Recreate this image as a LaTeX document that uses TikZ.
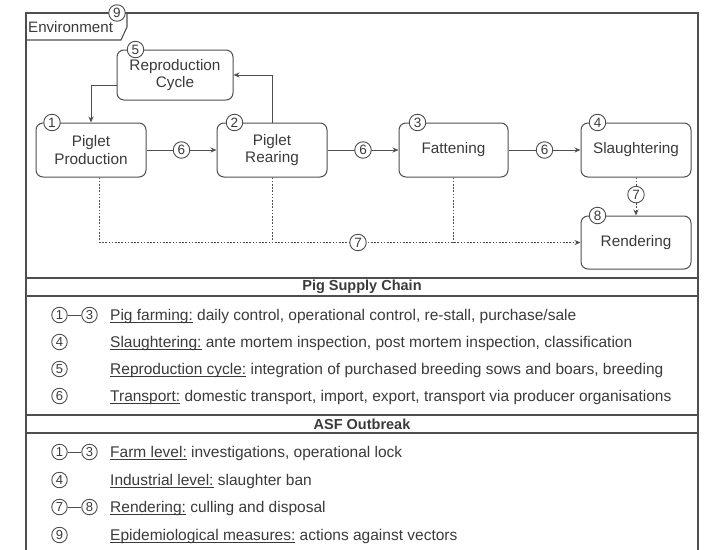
\documentclass[tikz,border=0pt]{standalone}
\usepackage{fontspec}
\setmainfont{Liberation Sans}
\usetikzlibrary{arrows.meta}
\definecolor{ink}{HTML}{3A3A3A}
\definecolor{edge}{HTML}{4E4E4E}
% underline drawn just below the baseline, through the descenders
\newcommand\undertext[1]{\setbox0\hbox{#1}\rlap{\rule[-2pt]{\wd0}{0.7pt}}\box0\relax}

\begin{document}
\begin{tikzpicture}[x=1pt,y=-1pt,
  every node/.style={text=ink},
  stage/.style={draw=edge, line width=1pt, rounded corners=7pt,
    minimum width=110pt, minimum height=54pt, align=center, inner sep=0pt,
    font=\fontsize{15.3}{17.5}\selectfont},
  tag/.style={circle, draw=edge, fill=white, solid, line width=0.9pt,
    minimum size=16.5pt, inner sep=0pt, font=\fontsize{13.5}{13.5}\selectfont},
  ltag/.style={tag, minimum size=15.5pt, font=\fontsize{13}{13}\selectfont},
  tip/.style={-{Stealth[length=6pt,width=5pt]}},
  flow/.style={draw=edge, line width=1pt, tip},
  cull/.style={draw=edge, line width=1pt, dash pattern=on 1.6pt off 1.6pt},
  frame/.style={draw=edge, line width=1.1pt},
  band/.style={font=\fontsize{14.5}{16}\selectfont\bfseries},
  entry/.style={anchor=base west, inner sep=0pt, font=\fontsize{15.5}{17}\selectfont},
]
\useasboundingbox (0,0) rectangle (709,549);

% outer frame of the environment (open at the bottom)
\draw[frame] (26,560) -- (26,13) -- (698,13) -- (698,560);
\draw[frame] (26,40) -- (121,40) -- (127,27) -- (127,13);
\node[anchor=west, inner sep=0pt, font=\fontsize{15.1}{17}\selectfont] (env) at (28,27) {Environment};

% supply chain stages
\node[stage, minimum width=116pt, minimum height=50pt] (repro) at (175,75) {Reproduction\\Cycle};
\node[stage] (prod) at (91,150) {Piglet\\Production};
\node[stage] (rear) at (272,150) {Piglet\\Rearing};
\node[stage, minimum width=109pt] (fat) at (453.5,150) {Fattening};
\node[stage] (slaug) at (636,150) {Slaughtering};
\node[stage, minimum height=53pt] (rend) at (636,242.5) {Rendering};

% breeding loop
\draw[flow] ([yshift=-10pt]repro.west) -| (prod.north);
\draw[flow] (rear.north) |- (repro.east);

% transport between stages
\draw[flow] (prod) -- (rear) node[tag, midway] {6};
\draw[flow] (rear) -- (fat) node[tag, midway] {6};
\draw[flow] (fat) -- (slaug) node[tag, midway] {6};

% animals sent to rendering
\coordinate (drop) at ([xshift=8pt]prod.south);
\draw[cull] (drop) -- (drop |- rend.west);
\draw[cull, tip] (drop |- rend.west) -- (rend.west);
\draw[cull] (rear.south) -- (rear.south |- rend.west);
\draw[cull] (fat.south) -- (fat.south |- rend.west);
\node[tag] (t7a) at (358,242.5) {7};
\draw[cull, tip] (slaug.south) -- (rend.north) node[tag, pos=0.45] {7};

% stage numbers
\node[tag] (n1) at ([xshift=16.5pt]prod.north west) {1};
\node[tag] (n2) at ([xshift=18pt]rear.north west) {2};
\node[tag] (n3) at ([xshift=19pt]fat.north west) {3};
\node[tag] (n4) at ([xshift=17pt]slaug.north west) {4};
\node[tag] (n5) at ([xshift=19pt]repro.north west) {5};
\node[tag] (n8) at ([xshift=17pt]rend.north west) {8};
\node[tag] (n9) at (117,13) {9};

% legend bands
\draw[frame] (26,278) -- (698,278);
\draw[frame] (26,296) -- (698,296);
\node[band] (h1) at (362,287) {Pig Supply Chain};
\draw[frame] (26,415) -- (698,415);
\draw[frame] (26,433) -- (698,433);
\node[band] (h2) at (362,424) {ASF Outbreak};

% legend: pig supply chain
\node[ltag] (a1) at (59.5,315) {1};
\node[ltag] (a3) at (89.5,315) {3};
\draw[edge, line width=0.9pt] (a1) -- (a3);
\node[entry] (e1) at (110,320.5) {\undertext{Pig farming:} daily control, operational control, re-stall, purchase/sale};
\node[ltag] (b4) at (59.5,342) {4};
\node[entry] (e2) at (110,347.5) {\undertext{Slaughtering:} ante mortem inspection, post mortem inspection, classification};
\node[ltag] (c5) at (59.5,369) {5};
\node[entry] (e3) at (110,374.5) {\undertext{Reproduction cycle:} integration of purchased breeding sows and boars, breeding};
\node[ltag] (d6) at (59.5,396) {6};
\node[entry] (e4) at (110,401.5) {\undertext{Transport:} domestic transport, import, export, transport via producer organisations};

% legend: ASF outbreak
\node[ltag] (f1) at (59.5,452) {1};
\node[ltag] (f3) at (89.5,452) {3};
\draw[edge, line width=0.9pt] (f1) -- (f3);
\node[entry] (g1) at (110,457.5) {\undertext{Farm level:} investigations, operational lock};
\node[ltag] (f4) at (59.5,480) {4};
\node[entry] (g2) at (110,485.5) {\undertext{Industrial level:} slaughter ban};
\node[ltag] (f7) at (59.5,507) {7};
\node[ltag] (f8) at (89.5,507) {8};
\draw[edge, line width=0.9pt] (f7) -- (f8);
\node[entry] (g3) at (110,512.5) {\undertext{Rendering:} culling and disposal};
\node[ltag] (f9) at (59.5,535) {9};
\node[entry] (g4) at (110,540.5) {\undertext{Epidemiological measures:} actions against vectors};
\end{tikzpicture}
\end{document}
